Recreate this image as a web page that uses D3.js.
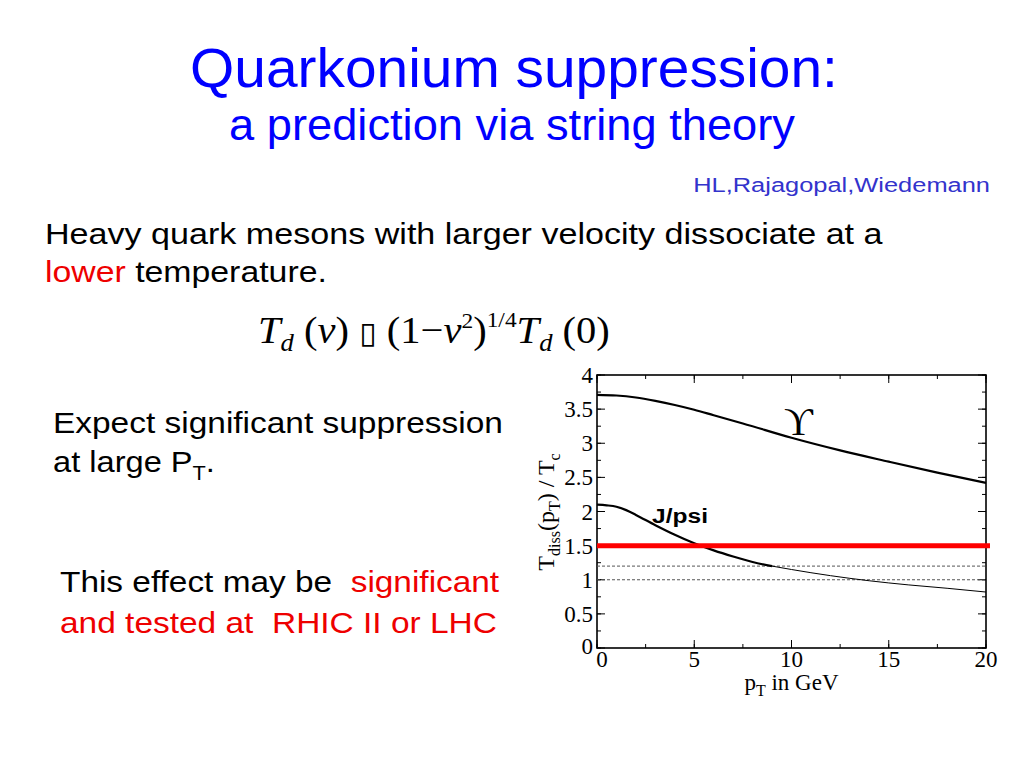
<!DOCTYPE html>
<html><head><meta charset="utf-8">
<script src="https://cdn.jsdelivr.net/npm/d3@7"></script>
<style>body{margin:0;background:#fff}svg{display:block}</style>
</head><body>
<svg id="c" width="1024" height="768"></svg>
<script>
// Data
const upsilonX = [0, 1, 2, 3, 4, 5, 6, 7.5, 10, 12.5, 15, 17.5, 20];
const upsilonY = [3.71, 3.70, 3.67, 3.62, 3.56, 3.49, 3.41, 3.29, 3.08, 2.895, 2.73, 2.57, 2.42];
const jpsiX = [0, 0.5, 1, 1.5, 2, 3, 4, 5, 6, 7, 8, 9, 10, 12, 14, 16, 18, 20];
const jpsiY = [2.10, 2.09, 2.07, 2.02, 1.95, 1.80, 1.66, 1.535, 1.43, 1.34, 1.26, 1.20, 1.15, 1.06, 0.985, 0.925, 0.875, 0.82];
const redLevel = 1.5;
const dashedLevels = [1.2, 1.0];
const xTicks = [0, 5, 10, 15, 20];
const yTicks = [0, 0.5, 1, 1.5, 2, 2.5, 3, 3.5, 4];
const yTickLabels = ["0", "0.5", "1", "1.5", "2", "2.5", "3", "3.5", "4"];

const svg = d3.select("#c");
const sans = "'Liberation Sans', Arial, sans-serif";
const serif = "'Liberation Serif', 'Times New Roman', serif";

// stretch a text horizontally so that it spans targetW px
function stretch(sel, targetW) {
  const bb = sel.node().getBBox();
  const k = targetW / bb.width;
  const anchor = sel.attr("text-anchor");
  const ax = anchor === "end" ? bb.x + bb.width : anchor === "middle" ? bb.x + bb.width / 2 : bb.x;
  sel.attr("transform", `translate(${ax},0) scale(${k},1) translate(${-ax},0)`);
}

// Titles
stretch(svg.append("text").attr("x", 514).attr("y", 87).attr("text-anchor", "middle")
  .attr("font-family", sans).attr("font-size", 56).attr("fill", "#0000ff").text("Quarkonium suppression:"), 648);
stretch(svg.append("text").attr("x", 512).attr("y", 140).attr("text-anchor", "middle")
  .attr("font-family", sans).attr("font-size", 44).attr("fill", "#0000ff").text("a prediction via string theory"), 566);
stretch(svg.append("text").attr("x", 990).attr("y", 192).attr("text-anchor", "end")
  .attr("font-family", sans).attr("font-size", 21).attr("fill", "#3333cc").text("HL,Rajagopal,Wiedemann"), 297);

// Body text
stretch(svg.append("text").attr("x", 45).attr("y", 244).attr("font-family", sans).attr("font-size", 30)
  .attr("fill", "#000").text("Heavy quark mesons with larger velocity dissociate at a"), 838);
const l2 = svg.append("text").attr("x", 45).attr("y", 282).attr("font-family", sans).attr("font-size", 30);
l2.append("tspan").attr("fill", "#ee0000").text("lower");
l2.append("tspan").attr("fill", "#000").text(" temperature.");
stretch(l2, 282);

// Formula
const f = svg.append("text").attr("x", 258).attr("y", 343).attr("font-family", serif).attr("font-size", 38).attr("fill", "#000");
f.append("tspan").attr("font-style", "italic").text("T");
f.append("tspan").attr("font-style", "italic").attr("font-size", 25).attr("dy", 8).text("d");
f.append("tspan").attr("dy", -8).text(" (");
f.append("tspan").attr("font-style", "italic").text("v");
f.append("tspan").text(") ");
f.append("tspan").attr("font-family", "'DejaVu Sans'").attr("font-size", 30).text("\u25AF");
f.append("tspan").text(" (1\u2212");
f.append("tspan").attr("font-style", "italic").text("v");
f.append("tspan").attr("font-size", 22).attr("dy", -15).text("2");
f.append("tspan").attr("dy", 15).text(")");
f.append("tspan").attr("font-size", 22).attr("dy", -16).text("1/4");
f.append("tspan").attr("dy", 16).attr("font-style", "italic").text("T");
f.append("tspan").attr("font-style", "italic").attr("font-size", 25).attr("dy", 8).text("d");
f.append("tspan").attr("dy", -8).text(" (0)");
stretch(f, 352);

// Left texts
stretch(svg.append("text").attr("x", 53).attr("y", 433).attr("font-family", sans).attr("font-size", 30)
  .attr("fill", "#000").text("Expect significant suppression"), 450);
const l4 = svg.append("text").attr("x", 53).attr("y", 472).attr("font-family", sans).attr("font-size", 30).attr("fill", "#000");
l4.append("tspan").text("at large P");
l4.append("tspan").attr("font-size", 20).attr("dy", 8).text("T");
l4.append("tspan").attr("dy", -8).text(".");
stretch(l4, 162);
const l5 = svg.append("text").attr("x", 60).attr("y", 592).attr("font-family", sans).attr("font-size", 30);
l5.append("tspan").attr("fill", "#000").text("This effect may be ");
l5.append("tspan").attr("fill", "#ee0000").text("\u00A0significant");
stretch(l5, 440);
const l6 = svg.append("text").attr("x", 60).attr("y", 633).attr("font-family", sans).attr("font-size", 30)
  .attr("fill", "#ee0000").text("and tested at \u00A0RHIC II or LHC");
stretch(l6, 437);

// Chart
const x = d3.scaleLinear().domain([0, 20]).range([597, 986]);
const y = d3.scaleLinear().domain([0, 4]).range([648, 375]);
const g = svg.append("g");

g.append("rect").attr("x", x(0)).attr("y", y(4)).attr("width", x(20) - x(0)).attr("height", y(0) - y(4))
  .attr("fill", "none").attr("stroke", "#000").attr("stroke-width", 1.6);

const xMinor = d3.range(0, 20.01, 2.5);
const yMinor = d3.range(0, 4.01, 0.25);
function tk(data, isX, major) {
  const len = major ? 8 : 4;
  data.forEach(v => {
    if (isX) {
      g.append("line").attr("x1", x(v)).attr("x2", x(v)).attr("y1", y(0)).attr("y2", y(0) - len).attr("stroke", "#000");
      g.append("line").attr("x1", x(v)).attr("x2", x(v)).attr("y1", y(4)).attr("y2", y(4) + len).attr("stroke", "#000");
    } else {
      g.append("line").attr("y1", y(v)).attr("y2", y(v)).attr("x1", x(0)).attr("x2", x(0) + len).attr("stroke", "#000");
      g.append("line").attr("y1", y(v)).attr("y2", y(v)).attr("x1", x(20)).attr("x2", x(20) - len).attr("stroke", "#000");
    }
  });
}
tk(xMinor, true, false); tk(xTicks, true, true);
tk(yMinor, false, false); tk(yTicks, false, true);

xTicks.forEach(v => {
  g.append("text").attr("x", x(v) + (v === 0 ? 5 : 0)).attr("y", 667).attr("text-anchor", "middle")
    .attr("font-family", serif).attr("font-size", 23).text(String(v));
});
yTicks.forEach((v, i) => {
  g.append("text").attr("x", 593).attr("y", y(v) + 8 - (v === 0 ? 2 : 0)).attr("text-anchor", "end")
    .attr("font-family", serif).attr("font-size", 23).text(yTickLabels[i]);
});

const xl = g.append("text").attr("x", x(10)).attr("y", 690).attr("text-anchor", "middle")
  .attr("font-family", serif).attr("font-size", 23);
xl.append("tspan").text("p");
xl.append("tspan").attr("font-size", 16).attr("dy", 6).text("T");
xl.append("tspan").attr("dy", -6).text(" in GeV");

const yl = g.append("text").attr("transform", "translate(554,512) rotate(-90)").attr("text-anchor", "middle")
  .attr("font-family", serif).attr("font-size", 24);
yl.append("tspan").text("T");
yl.append("tspan").attr("font-size", 16).attr("dy", 6).text("diss");
yl.append("tspan").attr("dy", -6).text("(p");
yl.append("tspan").attr("font-size", 16).attr("dy", 6).text("T");
yl.append("tspan").attr("dy", -6).text(") / T");
yl.append("tspan").attr("font-size", 16).attr("dy", 6).text("c");

dashedLevels.forEach(v => {
  g.append("line").attr("x1", x(0)).attr("x2", x(20)).attr("y1", y(v)).attr("y2", y(v))
    .attr("stroke", "#555").attr("stroke-width", 1).attr("stroke-dasharray", "3,2");
});

const line = d3.line().x(d => x(d[0])).y(d => y(d[1])).curve(d3.curveMonotoneX);
const ups = upsilonX.map((v, i) => [v, upsilonY[i]]);
g.append("path").attr("d", line(ups)).attr("fill", "none").attr("stroke", "#000").attr("stroke-width", 2.2);
const jp = jpsiX.map((v, i) => [v, jpsiY[i]]);
g.append("path").attr("d", line(jp.filter(d => d[0] <= 9))).attr("fill", "none").attr("stroke", "#000").attr("stroke-width", 2.2);
g.append("path").attr("d", line(jp.filter(d => d[0] >= 9))).attr("fill", "none").attr("stroke", "#000").attr("stroke-width", 1);

g.append("line").attr("x1", x(0)).attr("x2", x(20) + 4).attr("y1", y(redLevel)).attr("y2", y(redLevel))
  .attr("stroke", "#ff0000").attr("stroke-width", 5);

g.append("text").attr("x", 784).attr("y", 435).attr("font-family", serif).attr("font-size", 40).text("\u03D2");
stretch(g.append("text").attr("x", 652).attr("y", 523).attr("font-family", sans).attr("font-weight", "bold")
  .attr("font-size", 21).text("J/psi"), 56);
</script>
</body></html>
